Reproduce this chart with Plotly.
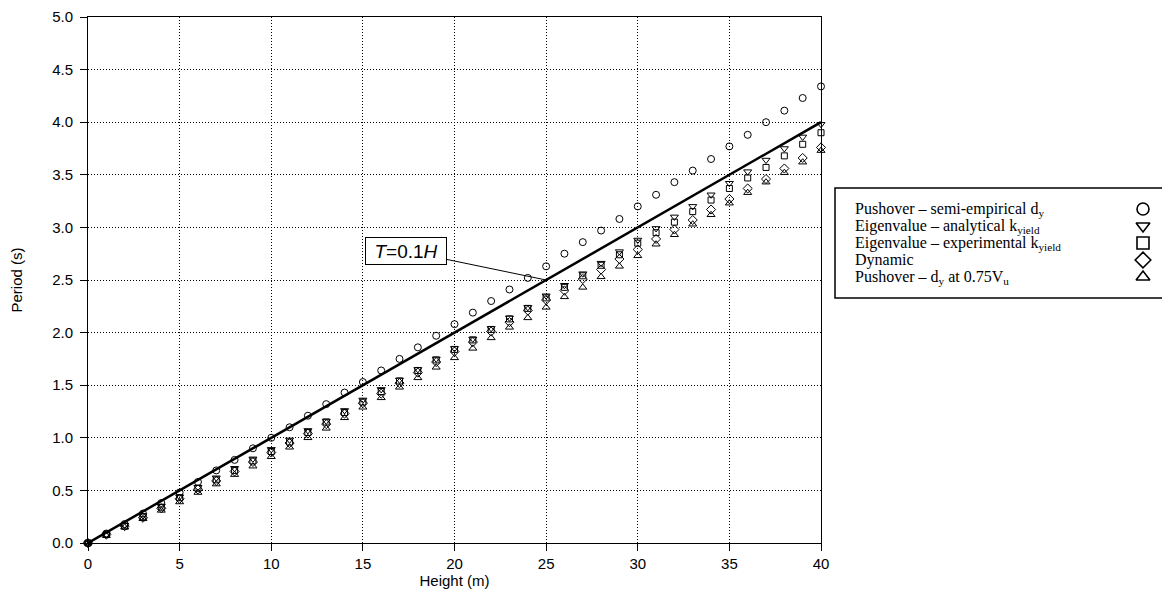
import plotly.graph_objects as go

# ---------------- data ----------------
height_m = list(range(0, 41))

pushover_semi_empirical = [0.00, 0.09, 0.18, 0.28, 0.38, 0.48, 0.58, 0.69, 0.79, 0.90,
                           1.00, 1.10, 1.21, 1.32, 1.43, 1.53, 1.64, 1.75, 1.86, 1.97,
                           2.08, 2.19, 2.30, 2.41, 2.52, 2.63, 2.75, 2.86, 2.97, 3.08,
                           3.20, 3.31, 3.43, 3.54, 3.65, 3.77, 3.88, 4.00, 4.11, 4.23, 4.34]

eigen_analytical = [0.00, 0.08, 0.17, 0.26, 0.35, 0.44, 0.53, 0.62, 0.71, 0.80,
                    0.89, 0.98, 1.07, 1.16, 1.26, 1.36, 1.46, 1.55, 1.65, 1.75,
                    1.85, 1.94, 2.04, 2.14, 2.24, 2.35, 2.45, 2.56, 2.66, 2.77,
                    2.88, 2.99, 3.10, 3.20, 3.31, 3.42, 3.53, 3.64, 3.75, 3.86, 3.98]

eigen_experimental = [0.00, 0.08, 0.16, 0.25, 0.34, 0.43, 0.52, 0.60, 0.69, 0.78,
                      0.87, 0.96, 1.05, 1.15, 1.24, 1.34, 1.44, 1.54, 1.64, 1.74,
                      1.84, 1.93, 2.03, 2.13, 2.23, 2.33, 2.43, 2.54, 2.64, 2.74,
                      2.85, 2.95, 3.05, 3.15, 3.26, 3.37, 3.47, 3.57, 3.68, 3.79, 3.90]

dynamic = [0.00, 0.08, 0.16, 0.24, 0.33, 0.42, 0.51, 0.59, 0.68, 0.77,
           0.86, 0.95, 1.04, 1.13, 1.23, 1.33, 1.42, 1.52, 1.62, 1.72,
           1.82, 1.91, 2.01, 2.10, 2.21, 2.31, 2.40, 2.51, 2.60, 2.70,
           2.79, 2.89, 2.98, 3.07, 3.17, 3.27, 3.37, 3.46, 3.56, 3.66, 3.76]

pushover_075vu = [0.00, 0.07, 0.15, 0.23, 0.31, 0.39, 0.48, 0.56, 0.65, 0.73,
                  0.82, 0.91, 1.00, 1.09, 1.19, 1.29, 1.38, 1.48, 1.57, 1.67,
                  1.76, 1.85, 1.95, 2.05, 2.14, 2.24, 2.34, 2.43, 2.53, 2.63,
                  2.73, 2.84, 2.93, 3.03, 3.12, 3.23, 3.33, 3.43, 3.52, 3.62, 3.73]

code_line_x = [0, 40]
code_line_y = [0.0, 4.0]

series_names = [
    "Pushover – semi-empirical d<sub>y</sub>",
    "Eigenvalue – analytical k<sub>yield</sub>",
    "Eigenvalue – experimental k<sub>yield</sub>",
    "Dynamic",
    "Pushover – d<sub>y</sub> at 0.75V<sub>u</sub>",
]
series_values = [pushover_semi_empirical, eigen_analytical, eigen_experimental,
                 dynamic, pushover_075vu]
series_symbols = ["circle-open", "triangle-down-open", "square-open",
                  "diamond-open", "triangle-up-open"]
series_sizes = [7, 7, 6, 7, 7]

x_ticks = list(range(0, 41, 5))
y_ticks = [i * 0.5 for i in range(11)]

# ---------------- layout geometry (screen pixels; page has an 8px body margin) ----
W, H = 1170, 613
OFF = 8
SCR_LEFT, SCR_TOP, SCR_BOTTOM, SCR_RIGHT = 88, 17, 543, 821
ML, MT = SCR_LEFT - OFF, SCR_TOP - OFF
MB = H - (SCR_BOTTOM - OFF)
SANS = "Liberation Sans, Arial, sans-serif"
TICK_FONT = dict(family=SANS, size=15, color="black")
TITLE_FONT = dict(family=SANS, size=15, color="black")
SERIF = "Liberation Serif, Times New Roman, serif"

fig = go.Figure()

for name, vals, sym, sz in zip(series_names, series_values, series_symbols, series_sizes):
    fig.add_trace(go.Scatter(
        x=height_m, y=vals, mode="markers", name=name, showlegend=False,
        cliponaxis=False,
        marker=dict(symbol=sym, size=sz, color="black", line=dict(color="black", width=1)),
    ))

fig.add_trace(go.Scatter(
    x=code_line_x, y=code_line_y, mode="lines", showlegend=False,
    line=dict(color="black", width=2.5), name="T=0.1H",
))

# ---------------- custom legend (text left, symbol right), screen-pixel axes -----
leg_left, leg_top, leg_bottom = 835, 188, 298
row0, row_dy = 209, 17
sym_x = 1143
leg_rows = [row0 + i * row_dy for i in range(len(series_names))]

fig.add_trace(go.Scatter(
    x=[sym_x] * len(series_names), y=leg_rows, xaxis="x2", yaxis="y2",
    mode="markers", showlegend=False, hoverinfo="skip", cliponaxis=False,
    marker=dict(symbol=series_symbols, size=12, color="black",
                line=dict(color="black", width=1.6)),
))

fig.add_shape(type="rect", xref="x2", yref="y2", x0=leg_left, x1=1300,
              y0=leg_top, y1=leg_bottom, line=dict(color="black", width=1.5),
              fillcolor="rgba(0,0,0,0)", layer="below")

for name, ry in zip(series_names, leg_rows):
    fig.add_annotation(xref="x2", yref="y2", x=853, y=ry, text=name,
                       showarrow=False, xanchor="left", yanchor="middle",
                       font=dict(family=SERIF, size=16, color="black"))

# ---------------- T=0.1H callout ----------------
fig.add_annotation(
    x=25, y=2.5, xref="x", yref="y", text="<i>T</i>=0.1<i>H</i>",
    showarrow=True, arrowhead=0, arrowwidth=1, arrowcolor="black",
    ax=-140, ay=-29, standoff=0,
    font=dict(family=SANS, size=19, color="black"),
    bgcolor="white", bordercolor="black", borderwidth=1, borderpad=2,
    width=76, height=22,
)

dom_right = (SCR_RIGHT - SCR_LEFT) / (W - ML)

fig.update_layout(
    width=W, height=H,
    margin=dict(l=ML, r=0, t=MT, b=MB),
    paper_bgcolor="white", plot_bgcolor="rgba(0,0,0,0)",
    showlegend=False,
    xaxis=dict(
        domain=[0, dom_right], range=[0, 40], tickvals=x_ticks, automargin=False,
        showline=True, linecolor="black", linewidth=1, mirror=True,
        ticks="outside", ticklen=7, tickcolor="black", tickwidth=1,
        ticklabeloverflow="allow",
        showgrid=True, gridcolor="black", gridwidth=1, griddash="1px,2px",
        zeroline=False, tickfont=TICK_FONT,
        title=dict(text="Height (m)", font=TITLE_FONT, standoff=0),
    ),
    yaxis=dict(
        range=[0, 5], tickvals=y_ticks, tickformat=".1f", automargin=False,
        showline=True, linecolor="black", linewidth=1, mirror=True,
        ticks="outside", ticklen=7, tickcolor="black", tickwidth=1,
        ticklabelstandoff=4, ticklabeloverflow="allow",
        showgrid=True, gridcolor="black", gridwidth=1, griddash="1px,2px",
        zeroline=False, tickfont=TICK_FONT,
        title=dict(text="Period (s)", font=TITLE_FONT, standoff=26),
    ),
    xaxis2=dict(domain=[0, 1], range=[SCR_LEFT, W + OFF], anchor="y2",
                visible=False, fixedrange=True),
    yaxis2=dict(domain=[0, 1], range=[SCR_BOTTOM, SCR_TOP], anchor="x2",
                visible=False, fixedrange=True),
)

fig.write_html("out.html")
